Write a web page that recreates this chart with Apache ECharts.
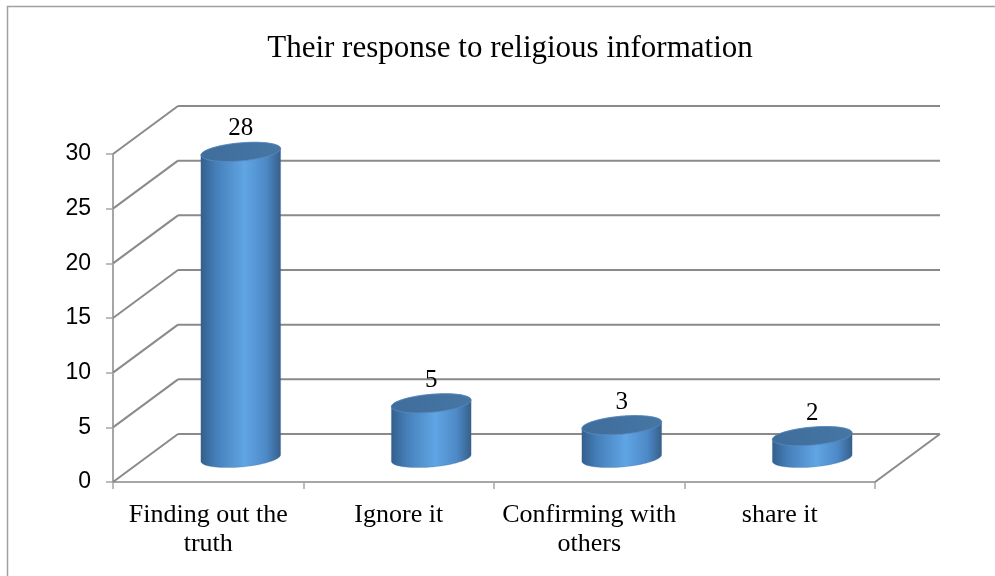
<!DOCTYPE html>
<html>
<head>
<meta charset="utf-8">
<script src="https://cdn.jsdelivr.net/npm/echarts@6/dist/echarts.min.js"></script>
<style>
  html, body { margin: 0; padding: 0; background: #fff; }
  #chart { width: 995px; height: 576px; }
</style>
</head>
<body>
<div id="chart"></div>
<script>
// Survey answers: how respondents react to religious information
const categories = ['Finding out the\ntruth', 'Ignore it', 'Confirming with\nothers', 'share it'];
const values = [28, 5, 3, 2];
const yTicks = [0, 5, 10, 15, 20, 25, 30];
const chartTitle = 'Their response to religious information';

// depth of the pseudo-3D box (front plane -> back wall), in pixels
const DX = 65, DY = 48;
const TILT = -5 * Math.PI / 180;
const RY = 9;

function ellipsePts(cx, cy, rx, ry, t0, t1, n) {
  const pts = [];
  const c = Math.cos(TILT), s = Math.sin(TILT);
  for (let k = 0; k <= n; k++) {
    const t = t0 + (t1 - t0) * k / n;
    const ex = rx * Math.cos(t), ey = ry * Math.sin(t);
    pts.push([cx + ex * c - ey * s, cy + ex * s + ey * c]);
  }
  return pts;
}

const gridColor = '#8a8a8a';
const axisColor = '#a6a6a6';

const chart = echarts.init(document.getElementById('chart'), null, { renderer: 'canvas' });

chart.setOption({
  animation: false,
  backgroundColor: '#fff',
  title: {
    text: chartTitle,
    left: 505,
    top: 28,
    textAlign: 'center',
    textStyle: { fontFamily: 'Liberation Serif', fontSize: 31, fontWeight: 'normal', color: '#000' }
  },
  graphic: [{
    type: 'rect',
    shape: { x: 7.5, y: 6.5, width: 1100, height: 700 },
    style: { fill: 'none', stroke: '#a0a0a0', lineWidth: 1.5 },
    silent: true,
    z: -10
  }],
  grid: { left: 113, right: 120, top: 154, bottom: 94, containLabel: false },
  xAxis: {
    type: 'category',
    data: categories,
    boundaryGap: true,
    axisLine: { show: true, lineStyle: { color: axisColor, width: 2 } },
    axisTick: { show: true, length: 7, lineStyle: { color: axisColor, width: 1.5 } },
    axisLabel: {
      interval: 0, margin: 19, color: '#000',
      fontFamily: 'Liberation Serif', fontSize: 26, lineHeight: 29
    },
    splitLine: { show: false }
  },
  yAxis: {
    type: 'value',
    min: 0, max: 30, interval: 5,
    axisLine: { show: true, lineStyle: { color: axisColor, width: 2 } },
    axisTick: { show: true, length: 7, lineStyle: { color: axisColor, width: 1.5 } },
    axisLabel: { margin: 22, color: '#000', fontFamily: 'Liberation Sans', fontSize: 23 },
    splitLine: { show: false }
  },
  series: [
    {
      // side wall diagonals and back wall gridlines
      type: 'custom',
      silent: true,
      z: 1,
      data: yTicks.map(v => [0, v]),
      encode: { x: 0, y: 1 },
      renderItem: function (params, api) {
        const cs = params.coordSys;
        const y = api.coord([0, api.value(1)])[1];
        const x0 = cs.x, x1 = cs.x + cs.width;
        const ls = { stroke: gridColor, lineWidth: 2 };
        const children = [
          { type: 'line', shape: { x1: x0, y1: y, x2: x0 + DX, y2: y - DY }, style: ls },
          { type: 'line', shape: { x1: x0 + DX, y1: y - DY, x2: x1 + DX, y2: y - DY }, style: ls }
        ];
        if (api.value(1) === 0) {
          children.push({ type: 'line', shape: { x1: x1, y1: y, x2: x1 + DX, y2: y - DY }, style: ls });
        }
        return { type: 'group', children: children };
      }
    },
    {
      // cylinders standing in the middle of the box depth
      type: 'custom',
      z: 3,
      data: values.map((v, i) => [i, v]),
      encode: { x: 0, y: 1 },
      renderItem: function (params, api) {
        const i = api.value(0), v = api.value(1);
        const p = api.coord([i, v]);
        const b = api.coord([i, 0]);
        const cx = p[0] + DX / 2;
        const yt = p[1] - DY / 2;
        const yb = b[1] - DY / 2;
        const rx = api.size([1, 0])[0] * 0.21;
        const body = ellipsePts(cx, yb, rx, RY, 0, Math.PI, 40)
          .concat(ellipsePts(cx, yt, rx, RY, Math.PI, 2 * Math.PI, 40));
        const cap = ellipsePts(cx, yt, rx, RY, 0, 2 * Math.PI, 80);
        return {
          type: 'group',
          children: [
            {
              type: 'polygon',
              shape: { points: body },
              style: {
                fill: new echarts.graphic.LinearGradient(0, 0, 1, 0, [
                  { offset: 0, color: '#335f8c' },
                  { offset: 0.2, color: '#4680bb' },
                  { offset: 0.55, color: '#60a5e4' },
                  { offset: 0.82, color: '#4d89c6' },
                  { offset: 1, color: '#365f8a' }
                ]),
                stroke: 'rgba(60,100,150,0.5)', lineWidth: 0.5
              }
            },
            {
              type: 'polygon',
              shape: { points: cap },
              style: {
                fill: new echarts.graphic.LinearGradient(0, 0, 1, 0, [
                  { offset: 0, color: '#3f6d9c' },
                  { offset: 1, color: '#4576a4' }
                ]),
                stroke: '#5b8cc0', lineWidth: 0.8
              }
            },
            {
              type: 'text',
              x: cx, y: yt - 23,
              style: {
                text: String(v), fill: '#000',
                font: '25px "Liberation Serif"',
                align: 'center', verticalAlign: 'middle'
              }
            }
          ]
        };
      }
    }
  ]
});
</script>
</body>
</html>
